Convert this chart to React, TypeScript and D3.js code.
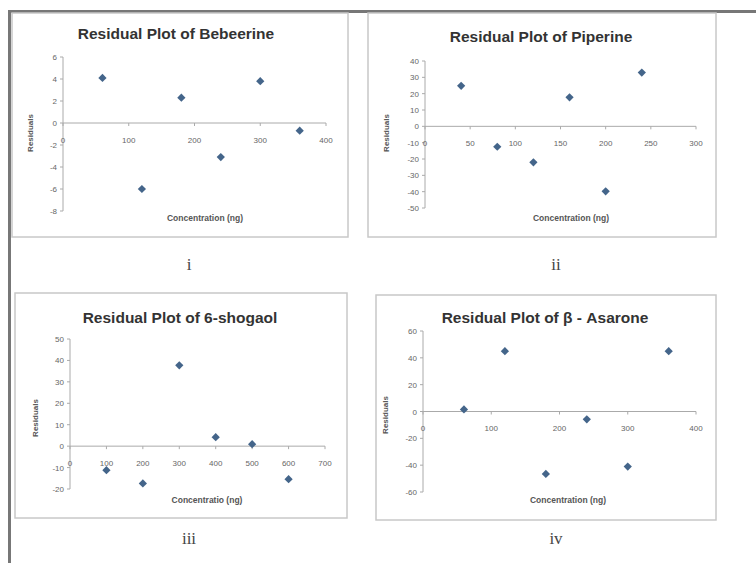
import React from "react";
import * as d3 from "d3";

// ---- data ----
const bebeerineX = [60, 120, 180, 240, 300, 360];
const bebeerineY = [4.1, -6.0, 2.3, -3.1, 3.8, -0.7];
const bebeerineXTicks = [0, 100, 200, 300, 400];
const bebeerineYTicks = [6, 4, 2, 0, -2, -4, -6, -8];

const piperineX = [40, 80, 120, 160, 200, 240];
const piperineY = [24.8, -12.5, -22, 17.8, -39.8, 32.9];
const piperineXTicks = [0, 50, 100, 150, 200, 250, 300];
const piperineYTicks = [40, 30, 20, 10, 0, -10, -20, -30, -40, -50];

const shogaolX = [100, 200, 300, 400, 500, 600];
const shogaolY = [-11.2, -17.4, 37.7, 4.2, 0.9, -15.4];
const shogaolXTicks = [0, 100, 200, 300, 400, 500, 600, 700];
const shogaolYTicks = [50, 40, 30, 20, 10, 0, -10, -20];

const asaroneX = [60, 120, 180, 240, 300, 360];
const asaroneY = [1.5, 45, -46.5, -5.8, -41, 45];
const asaroneXTicks = [0, 100, 200, 300, 400];
const asaroneYTicks = [60, 40, 20, 0, -20, -40, -60];

const titles = [
  "Residual Plot of Bebeerine",
  "Residual Plot of Piperine",
  "Residual Plot of 6-shogaol",
  "Residual Plot of β - Asarone",
];
const xTitles = [
  "Concentration (ng)",
  "Concentration (ng)",
  "Concentratio (ng)",
  "Concentration (ng)",
];
const yTitle = "Residuals";
const numerals = ["i", "ii", "iii", "iv"];

type Layout = {
  frame: [number, number, number, number]; // x0,y0,x1,y1
  px: [number, number];
  py: [number, number];
  titleX: number;
  titleY: number;
  xTitleX: number;
  xTitleY: number;
  yTitleX: number;
  yTitleY: number;
  numX: number;
  numY: number;
};

const layouts: Layout[] = [
  { frame: [12, 13, 348, 237], px: [63, 326], py: [211, 57], titleX: 176, titleY: 39, xTitleX: 205, xTitleY: 221, yTitleX: 33, yTitleY: 133, numX: 189, numY: 270 },
  { frame: [368, 13, 716, 237], px: [425, 696], py: [208, 61], titleX: 541, titleY: 42, xTitleX: 571, xTitleY: 221, yTitleX: 389, yTitleY: 133, numX: 556, numY: 270 },
  { frame: [15, 293, 347, 518], px: [70, 325], py: [489, 339], titleX: 180, titleY: 323, xTitleX: 207, xTitleY: 503, yTitleX: 38, yTitleY: 418, numX: 189, numY: 544 },
  { frame: [376, 295, 716, 520], px: [423, 696], py: [492, 331], titleX: 545, titleY: 323, xTitleX: 568, xTitleY: 503, yTitleX: 388, yTitleY: 415, numX: 556, numY: 544 },
];

const series = [
  { xs: bebeerineX, ys: bebeerineY, xt: bebeerineXTicks, yt: bebeerineYTicks },
  { xs: piperineX, ys: piperineY, xt: piperineXTicks, yt: piperineYTicks },
  { xs: shogaolX, ys: shogaolY, xt: shogaolXTicks, yt: shogaolYTicks },
  { xs: asaroneX, ys: asaroneY, xt: asaroneXTicks, yt: asaroneYTicks },
];

const font = "'Liberation Sans', Arial, sans-serif";
const diamond = d3.symbol().type(d3.symbolSquare).size(34)();

function Panel({ i }: { i: number }) {
  const L = layouts[i];
  const S = series[i];
  const x = d3.scaleLinear().domain([S.xt[0], S.xt[S.xt.length - 1]]).range(L.px);
  const y = d3.scaleLinear().domain([d3.min(S.yt)!, d3.max(S.yt)!]).range(L.py);
  const y0 = y(0);
  const [fx0, fy0, fx1, fy1] = L.frame;
  return (
    <g>
      <rect x={fx0} y={fy0} width={fx1 - fx0} height={fy1 - fy0} fill="#fff" stroke="#c8c8c8" strokeWidth={1.5} />
      <text x={L.titleX} y={L.titleY} textAnchor="middle" fontFamily={font} fontWeight="bold" fontSize={15.5} fill="#333">
        {titles[i]}
      </text>
      {/* y axis */}
      <line x1={x(0)} x2={x(0)} y1={L.py[0]} y2={L.py[1]} stroke="#aaa" strokeWidth={1} />
      {S.yt.map((t) => (
        <g key={"y" + t}>
          <line x1={x(0) - 3} x2={x(0)} y1={y(t)} y2={y(t)} stroke="#aaa" />
          <text x={x(0) - 6} y={y(t) + 3} textAnchor="end" fontFamily={font} fontSize={8} fill="#666">
            {t}
          </text>
        </g>
      ))}
      {/* x axis at zero */}
      <line x1={L.px[0]} x2={L.px[1]} y1={y0} y2={y0} stroke="#aaa" strokeWidth={1} />
      {S.xt.map((t) => (
        <g key={"x" + t}>
          <line x1={x(t)} x2={x(t)} y1={y0} y2={y0 + 3} stroke="#aaa" />
          <text x={x(t)} y={y0 + 19.5} textAnchor="middle" fontFamily={font} fontSize={8} fill="#666">
            {t}
          </text>
        </g>
      ))}
      <text x={L.xTitleX} y={L.xTitleY} textAnchor="middle" fontFamily={font} fontWeight="bold" fontSize={8.5} fill="#555">
        {xTitles[i]}
      </text>
      <text
        transform={`translate(${L.yTitleX},${L.yTitleY}) rotate(-90)`}
        textAnchor="middle"
        fontFamily={font}
        fontWeight="bold"
        fontSize={8}
        fill="#555"
      >
        {yTitle}
      </text>
      {S.xs.map((v, k) => (
        <path key={k} d={diamond} transform={`translate(${x(v)},${y(S.ys[k])}) rotate(45)`} fill="#44658a" />
      ))}
      <text x={L.numX} y={L.numY} textAnchor="middle" fontFamily="'Liberation Serif', 'Times New Roman', serif" fontSize={17} fill="#444">
        {numerals[i]}
      </text>
    </g>
  );
}

export default function App() {
  return (
    <svg width={756} height={563} style={{ position: "absolute", left: 0, top: 0, background: "#fff" }}>
      <rect x={0} y={0} width={756} height={563} fill="#fff" />
      <line x1={8} x2={756} y1={11.5} y2={11.5} stroke="#777" strokeWidth={3} />
      <line x1={9.5} x2={9.5} y1={10} y2={563} stroke="#777" strokeWidth={3} />
      {[0, 1, 2, 3].map((i) => (
        <Panel key={i} i={i} />
      ))}
    </svg>
  );
}
